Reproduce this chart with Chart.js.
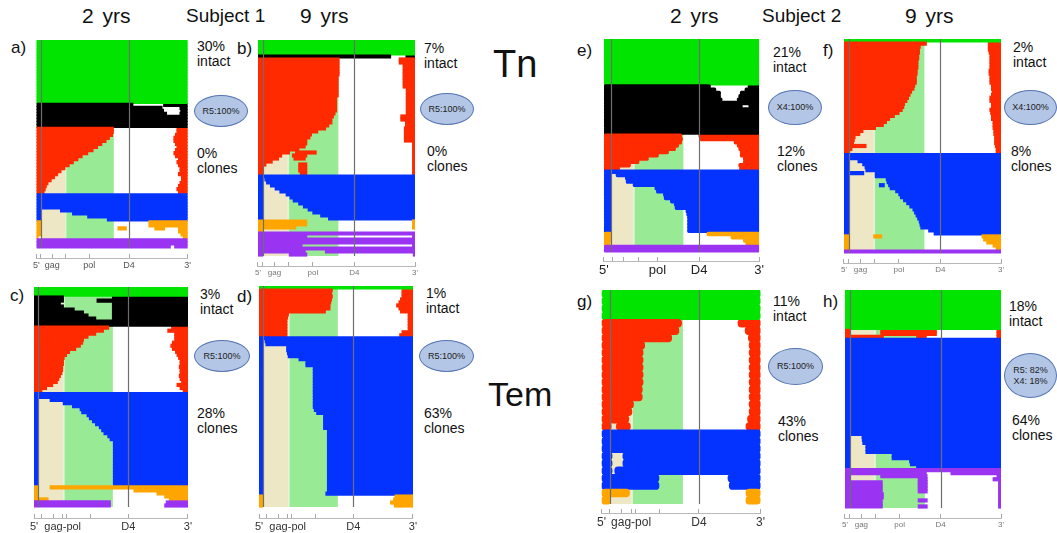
<!DOCTYPE html>
<html>
<head>
<meta charset="utf-8">
<script src="https://cdn.jsdelivr.net/npm/chart.js"></script>
<style>
  body { margin:0; width:1057px; height:533px; position:relative; background:#fff; overflow:hidden;
         font-family:"Liberation Sans", Arial, sans-serif; color:#111; }
  .t { position:absolute; white-space:nowrap; line-height:1; }
  .p { position:absolute; white-space:nowrap; font-size:14px; line-height:15px; }
  .ell { position:absolute; box-sizing:border-box; border:1.3px solid #5574b2; background:#b3c6e6;
         border-radius:50%; display:flex; align-items:center; justify-content:center;
         font-size:9px; line-height:11px; text-align:center; color:#222; }
  canvas { position:absolute; }
</style>
</head>
<body>

<div class="t" style="left:82px;top:5px;font-size:21px;word-spacing:3px">2 yrs</div>
<div class="t" style="left:186px;top:6px;font-size:19px">Subject 1</div>
<div class="t" style="left:300px;top:5px;font-size:21px;word-spacing:3px">9 yrs</div>
<div class="t" style="left:670px;top:5px;font-size:21px;word-spacing:3px">2 yrs</div>
<div class="t" style="left:762px;top:6px;font-size:19px">Subject 2</div>
<div class="t" style="left:905px;top:5px;font-size:21px;word-spacing:3px">9 yrs</div>

<div class="t" style="left:493px;top:45px;font-size:38px">Tn</div>
<div class="t" style="left:488px;top:377px;font-size:34px">Tem</div>

<div class="t" style="left:11px;top:39px;font-size:17px">a)</div>
<div class="t" style="left:237px;top:40px;font-size:17px">b)</div>
<div class="t" style="left:577px;top:42px;font-size:17px">e)</div>
<div class="t" style="left:823px;top:42px;font-size:17px">f)</div>
<div class="t" style="left:10px;top:287px;font-size:17px">c)</div>
<div class="t" style="left:237px;top:288px;font-size:17px">d)</div>
<div class="t" style="left:577px;top:293px;font-size:17px">g)</div>
<div class="t" style="left:823px;top:293px;font-size:17px">h)</div>

<div class="p" style="left:197px;top:39px">30%<br>intact</div>
<div class="p" style="left:197px;top:146px">0%<br>clones</div>
<div class="p" style="left:424px;top:41px">7%<br>intact</div>
<div class="p" style="left:427px;top:144px">0%<br>clones</div>
<div class="p" style="left:773px;top:45px">21%<br>intact</div>
<div class="p" style="left:777px;top:144px">12%<br>clones</div>
<div class="p" style="left:1013px;top:40px">2%<br>intact</div>
<div class="p" style="left:1011px;top:144px">8%<br>clones</div>
<div class="p" style="left:200px;top:287px">3%<br>intact</div>
<div class="p" style="left:197px;top:406px">28%<br>clones</div>
<div class="p" style="left:426px;top:286px">1%<br>intact</div>
<div class="p" style="left:424px;top:406px">63%<br>clones</div>
<div class="p" style="left:773px;top:294px">11%<br>intact</div>
<div class="p" style="left:778px;top:414px">43%<br>clones</div>
<div class="p" style="left:1009px;top:299px">18%<br>intact</div>
<div class="p" style="left:1012px;top:413px">64%<br>clones</div>

<div class="ell" style="left:194px;top:95px;width:54px;height:32px">R5:100%</div>
<div class="ell" style="left:420px;top:93px;width:54px;height:32px">R5:100%</div>
<div class="ell" style="left:768px;top:90px;width:54px;height:35px">X4:100%</div>
<div class="ell" style="left:1004px;top:90px;width:53px;height:35px">X4:100%</div>
<div class="ell" style="left:194px;top:340px;width:56px;height:32px">R5:100%</div>
<div class="ell" style="left:419px;top:340px;width:55px;height:32px">R5:100%</div>
<div class="ell" style="left:768px;top:348px;width:55px;height:37px">R5:100%</div>
<div class="ell" style="left:1004px;top:353px;width:53px;height:45px">R5: 82%<br>X4: 18%</div>

<script>
// provirus classes: G intact, K hypermutated, R large internal deletion,
// B 5' deletion, O other defects, P packaging-signal / MSD defects, W blank
const COLORS = { G:'#00e400', K:'#000000', R:'#ff2a00', B:'#0433ff', O:'#ffa500', P:'#9a34f2', W:'#ffffff' };

// genome landmarks (% of HXB2 length)
const ltrEnd = { a:2.8, b:3.2, c:2.7, d:2.5, e:4.8, f:2.9, g:5.5, h:3.2 };
const gagEnd = 19;
const polStart = 19.8;
const polEnd = 51.2;
const d4Pos = 61.3;

// x axis ticks
const ticksSmall = [0, 3, 10.5, 19.5, 35, 61.3, 100];
const labelsSmall = ["5'", '', 'gag', '', 'pol', 'D4', "3'"];
const ticksGagPol = [0, 4.8, 12.4, 18.6, 21.1, 36.6, 61.3, 100];
const labelsGagPol = ["5'", '', '', 'gag-pol', '', '', 'D4', "3'"];
const ticksE = [0, 5.6, 12.8, 22.6, 34.5, 61.3, 100];
const labelsE = ["5'", '', '', '', 'pol', 'D4', "3'"];

// each row: present from 0 to L and from R to 100 (L = R = 100 -> full length)
// X: extra pieces [row, start, end, class]

// a) subject 1, Tn, 2 yrs
const aGroups = [['G',21],['K',8],['R',22],['B',9],['O',6],['P',3]];
const aL = [100,100,100,100,100,100,100,100,100,100,100,100,100,100,100,100,100,100,100,100,100,
  63.7,83,84,86,100,100,100,100,
  50.8,50.8,50.3,48.2,46,43.2,40.4,37.4,33.9,30.2,27.4,24.4,21.6,18.8,16.2,14,11.9,9.7,7.6,6.5,5.8,5,
  100,100,100,100,2.8,2.8,2.8,2.8,2.8,
  2.8,2.8,2.8,2.8,2.8,1,
  100,100,88.5];
const aR = [100,100,100,100,100,100,100,100,100,100,100,100,100,100,100,100,100,100,100,100,100,
  84.2,95,95.5,95,100,100,100,100,
  93,93,92,91,91,92,93,92,91,92,94,93,94,95,95,94,96,96,95,94,93,94,
  100,100,100,100,3.5,16,24,34,47,
  74.5,74.5,94,94,95.7,97.2,
  100,100,91.5];
const aX = [[62,54,59.4,'O'],[62,78.4,84.7,'O']];

// b) subject 1, Tn, 9 yrs
const bGroups = [['G',5],['K',1],['R',39],['B',15],['O',4],['P',8]];
const bL = [100,100,100,100,100,
  84.4,
  51.6,51.6,51.6,51.6,51.6,51.6,51,51,51,51,51,51,51,50,50,50,50,50,
  49,48,47,47,45,43,38,34,33,31,31,30,26,20,15,13,9,5,3,3,3,
  100,3.2,3.2,3.2,3.2,3.2,3.2,3.2,3.2,3.2,3.2,3.2,3.2,3.2,3.2,
  31,31,24,3,
  100,31,100,100,28,100,30,3];
const bR = [100,100,100,100,100,
  94.3,
  90,90,92.5,92.5,92.5,92.5,92.5,92.5,92.5,92.5,94.5,94.5,94.5,94.5,94.5,94.5,94.5,94.5,94.5,
  91,91,94,94,93.3,93.3,93.3,93.3,93.3,98.5,98.5,98.5,98.5,98.5,98.5,98.5,98.5,98.5,98.5,98.5,
  100,4.5,5.5,8,11,14,18,20.5,22.5,26,29,32,35,40,45,
  98.5,98.5,98.5,100,
  100,98.5,100,100,98.5,100,43,99];
const bX = [[37,24,37,'R'],[38,22,31,'R'],[39,23,30,'R'],[41,26,31,'R'],[42,26,31,'R'],[43,26,31,'R'],[44,27,31,'R'],
  [71,20,31,'P']];

// c) subject 1, Tem, 2 yrs
const cGroups = [['G',3],['K',10],['R',22],['B',31],['O',5],['P',2]];
const cL = [100,100,100,
  19,19,17,19,26,32,35,40,100,100,
  48.4,45,40,35,32,31.5,30,27,23,21,19.5,19,19,18.5,18.5,18,17,16,15,12,8,5,
  100,100,2.7,2.7,2.7,2.7,2.7,2.7,2.7,2.7,2.7,2.7,2.7,2.7,2.7,2.7,2.7,2.7,2.7,2.7,2.7,2.7,2.7,2.7,2.7,2.7,2.7,2.7,2.7,2.7,2.7,
  2.7,2.7,2.7,2.7,9,
  49.5,49.5];
const cR = [100,100,100,
  51,41,51,51,51,51,51,51,100,100,
  89.5,87,91.5,91.5,91.5,90,89,90,92,93,94,95,95,94.5,95,95,94.5,95,96,93,95,97,
  100,100,10.5,19,25,30,31,34.5,36,38,40,42.5,44,45.5,48,49.5,
  51.6,51.6,51.6,51.6,51.6,51.6,51.6,51.6,51.6,51.6,51.6,51.6,51.6,51.6,51.6,
  10.5,65,80,85,88,
  86,85];
const cX = [];

// d) subject 1, Tem, 9 yrs
const dGroups = [['G',1],['R',16],['B',53],['O',4]];
const dL = [100,
  47.5,47,47.5,47,46.5,46,46,43,19,18.5,18,18,18,18,18,18,
  100,2.7,2.7,2.7,2.7,2.7,2.7,2.7,2.7,2.7,2.7,2.7,2.7,2.7,2.7,2.7,2.7,2.7,2.7,2.7,2.7,2.7,2.7,2.7,2.7,2.7,2.7,
  2.7,2.7,2.7,2.7,2.7,2.7,2.7,2.7,2.7,2.7,2.7,2.7,2.7,2.7,2.7,2.7,2.7,2.7,2.7,2.7,2.7,2.7,2.7,2.7,2.7,2.7,
  2.2,2.2,2.2,2.2];
const dR = [100,
  93,93,93,92,91,89.5,91,92,97,97,97,97,97,97,93,91.5,
  100,4,4.5,18,18,18.5,19,26,30.5,30.5,
  35.3,35.3,35.3,35.3,35.3,35.3,35.3,35.3,35.3,35.3,35.3,35.3,35.3,35.3,
  36,37.5,42,42,42,42,42,
  44.5,44.5,44.5,44.5,44.5,44.5,44.5,44.5,44.5,44.5,44.5,44.5,44.5,44.5,44.5,44.5,44.5,44.5,44.5,44.5,44.5,43.5,
  88.5,87.5,85.5,88];
const dX = [];

// e) subject 2, Tn, 2 yrs
const eGroups = [['G',14],['K',15],['R',11],['B',19],['O',4],['P',2]];
const eL = [100,100,100,100,100,100,100,100,100,100,100,100,100,100,
  68.5,72,75,75,76,100,89,100,100,100,100,100,100,100,100,
  50,50.5,50,48,46,41.5,35,28.5,22.5,17,10,
  100,4.8,4.8,4.8,4.8,4.8,4.8,4.8,4.8,4.8,4.8,4.8,4.8,4.8,4.8,4.8,4.8,4.8,4.8,
  4.8,4.8,4.8,4,
  100,100];
const eR = [100,100,100,100,100,100,100,100,100,100,100,100,100,100,
  93,91,88,87,86,100,93.5,100,100,100,100,100,100,100,100,
  61.3,62,84,86,87,88,88,90,90,87,87.5,
  100,8,14,14.5,19,33,34,38.5,39,43,45.5,46,53,53.5,54,54,54,54,54,
  66.5,82,90,91.5,
  100,100];
const eX = [[17,65,68,'W']];

// f) subject 2, Tn, 9 yrs
const fGroups = [['G',1],['R',37],['B',27],['O',5],['P',1]];
const fL = [100,
  52.4,48.5,48,48,47.5,47.5,47,47,47,46.5,46.5,46,46,46,45,44.5,43,42,41,40,38.5,38,37,35,32,29,27,25,20,12,10,7,6.5,6,14,5,3.5,
  100,2.9,2.9,2.9,2.9,2.9,12.5,2.9,2.9,2.9,2.9,2.9,2.9,2.9,2.9,2.9,2.9,2.9,2.9,2.9,2.9,2.9,2.9,2.9,2.9,2.9,2.9,
  2.9,2.9,2.9,2.9,2.9,
  100];
const fR = [100,
  92,92,92,92.5,93,93,93,93,93,92.5,92.5,93,93,93,94,94,94.5,94,93,93,94,94,93,93.5,94,94,95,95,95,95.5,95.5,96,96,96,96.5,97,97,
  100,4,9,12,13.5,14,20,20,27,27.5,28.5,29.5,33,35,36,38,40,42,44,45,46,47,48,48.5,49,54,57.5,
  88,89,91,95,97,
  100];
const fX = [[27,7,18,'W'],[35,9,14,'W'],[22,92.5,98,'W'],[16,92.5,96,'W'],
  [44,73,94,'W'],[48,22.6,25.6,'B'],[48,93.3,96.4,'W'],[65,19,24,'O']];

// g) subject 2, Tem, 2 yrs
const gGroups = [['G',4],['R',15],['B',8],['O',2]];
const gL = [100,100,100,100,
  50.2,48.5,44,27,26,26,26,26,26,25.5,25.5,20,19,17,6,
  100,100,100,6.5,6.5,6.5,36,36,
  17.5,5.5];
const gR = [100,100,100,100,
  86,90.5,92.5,93,93,93,93,93,93,93,93,93,93,92,91,
  100,100,100,13.6,13.6,8.5,79.7,80.5,
  91,91];
const gX = [[18,9.5,18,'R']];

// h) subject 2, Tem, 9 yrs
const hGroups = [['G',13],['R',3],['B',43],['P',13]];
const hL = [100,100,100,100,100,100,100,100,100,100,100,100,100,
  3.4,3.4,24.5,
  100,100,100,100,100,100,100,100,100,100,100,100,100,100,100,100,100,100,100,100,100,100,100,100,100,100,100,100,100,100,100,100,
  3.4,3.4,3.4,3.4,3.4,3.4,3.4,3.4,3.4,3.4,3.4,
  100,52,3.4,3.4,23.8,23.8,23.8,23.8,24.5,24.5,23.8,23.8,23.8];
const hR = [100,100,100,100,100,100,100,100,100,100,100,100,100,
  97.5,97.5,97.5,
  100,100,100,100,100,100,100,100,100,100,100,100,100,100,100,100,100,100,100,100,100,100,100,100,100,100,100,100,100,100,100,100,
  11,11.2,11.5,13.5,13.5,13.5,30.3,30.3,41.5,42,46,
  100,68,97.5,95,98.5,98.5,98.5,98.5,98.5,98.5,98.5,98.5,98.5];
const hX = [[13,23,58.5,'R'],[14,23,58.5,'R'],[15,46,52,'R'],
  [61,23,52.5,'P'],[62,47,52.6,'P'],[63,47,52.6,'P'],[64,47,52.6,'P'],[65,47,52.6,'P'],[66,47,52.6,'P'],
  [69,47,52.6,'P'],[71,47,52.6,'P']];

Chart.defaults.font.family = '"Liberation Sans", Arial, sans-serif';

const genomePlugin = {
  id: 'genome',
  beforeDatasetsDraw(chart, args, o) {
    const ctx = chart.ctx, xs = chart.scales.x, ys = chart.scales.y;
    const top = ys.getPixelForValue(-0.5), bot = ys.getPixelForValue(o.rows - 0.5);
    const band = (a, b, c) => {
      const x0 = xs.getPixelForValue(a), x1 = xs.getPixelForValue(b);
      ctx.fillStyle = c;
      ctx.fillRect(x0, top, x1 - x0, bot - top);
    };
    ctx.save();
    band(o.ltr + 0.4, gagEnd, '#eee7c6');
    band(gagEnd, polStart, '#dcf3d4');
    band(polStart, polEnd, '#98eb94');
    ctx.restore();
  },
  afterDatasetsDraw(chart, args, o) {
    const ctx = chart.ctx, xs = chart.scales.x, ys = chart.scales.y;
    const top = ys.getPixelForValue(-0.5), bot = ys.getPixelForValue(o.rows - 0.5);
    ctx.save();
    ctx.strokeStyle = '#6e6e6e';
    ctx.lineWidth = 1.2;
    [o.ltr, d4Pos].forEach(v => {
      const x = Math.round(xs.getPixelForValue(v)) + 0.5;
      ctx.beginPath(); ctx.moveTo(x, top); ctx.lineTo(x, bot); ctx.stroke();
    });
    ctx.restore();
  }
};

function drawPanel(p) {
  const keys = [];
  p.groups.forEach(g => { for (let i = 0; i < g[1]; i++) keys.push(g[0]); });
  const n = keys.length;
  const rowPx = p.h / n;
  const leftData = [], leftCol = [], rightData = [], rightCol = [];
  keys.forEach((k, i) => {
    if (p.L[i] > 0) { leftData.push({ x: [0, p.L[i]], y: i }); leftCol.push(COLORS[k]); }
    if (p.R[i] < 100) { rightData.push({ x: [p.R[i], 100], y: i }); rightCol.push(COLORS[k]); }
  });
  const extraData = p.X.map(e => ({ x: [e[1], e[2]], y: e[0] }));
  const extraCol = p.X.map(e => COLORS[e[3]]);

  const common = {
    borderWidth: 0, borderSkipped: false, grouped: false,
    barPercentage: 1, categoryPercentage: 1, inflateAmount: 0.6,
    borderRadius: p.round ? rowPx / 2 : 0
  };

  const canvas = document.createElement('canvas');
  canvas.width = p.w + 16;
  canvas.height = p.h + p.gap + p.axisH;
  canvas.style.left = (p.x - 8) + 'px';
  canvas.style.top = p.y + 'px';
  document.body.appendChild(canvas);

  new Chart(canvas, {
    type: 'bar',
    data: {
      datasets: [
        Object.assign({ data: leftData, backgroundColor: leftCol }, common),
        Object.assign({ data: rightData, backgroundColor: rightCol }, common),
        Object.assign({ data: extraData, backgroundColor: extraCol }, common)
      ]
    },
    options: {
      indexAxis: 'y',
      responsive: false,
      animation: false,
      devicePixelRatio: 1,
      events: [],
      layout: { padding: { left: 8, right: 8, top: 0, bottom: 0 } },
      plugins: {
        legend: { display: false },
        tooltip: { enabled: false },
        genome: { rows: n, ltr: p.ltr }
      },
      scales: {
        y: {
          type: 'linear', reverse: true, display: false,
          min: -0.5, max: n - 0.5 + p.gap / rowPx,
          afterBuildTicks: s => { s.ticks = []; }
        },
        x: {
          type: 'linear', min: 0, max: 100,
          afterBuildTicks: s => { s.ticks = p.ticks.map(v => ({ value: v })); },
          afterFit: s => { s.height = p.axisH; },
          ticks: {
            autoSkip: false, maxRotation: 0, padding: 6,
            color: p.tickColor, font: { size: p.tickSize },
            callback: (v, i) => p.labels[i]
          },
          grid: { drawOnChartArea: false, drawTicks: true, tickLength: -4, color: '#a8a8a8' },
          border: { display: true, color: '#b8b8b8' }
        }
      }
    },
    plugins: [genomePlugin]
  });
}

const panels = [
  { groups: aGroups, L: aL, R: aR, X: aX, ltr: ltrEnd.a, x: 35, y: 40, w: 154, h: 208, gap: 10, axisH: 20,
    ticks: ticksSmall, labels: labelsSmall, tickSize: 9, tickColor: '#555' },
  { groups: bGroups, L: bL, R: bR, X: bX, ltr: ltrEnd.b, x: 257, y: 40, w: 159, h: 216, gap: 10, axisH: 18,
    ticks: ticksSmall, labels: labelsSmall, tickSize: 8, tickColor: '#777' },
  { groups: cGroups, L: cL, R: cR, X: cX, ltr: ltrEnd.c, x: 32, y: 287, w: 158, h: 220, gap: 11, axisH: 22,
    ticks: ticksGagPol, labels: labelsGagPol, tickSize: 11, tickColor: '#333' },
  { groups: dGroups, L: dL, R: dR, X: dX, ltr: ltrEnd.d, x: 257, y: 286, w: 158, h: 221, gap: 11, axisH: 22,
    ticks: ticksGagPol, labels: labelsGagPol, tickSize: 11, tickColor: '#333' },
  { groups: eGroups, L: eL, R: eR, X: eX, ltr: ltrEnd.e, x: 601, y: 39, w: 161, h: 213, gap: 9, axisH: 24, round: true,
    ticks: ticksE, labels: labelsE, tickSize: 13, tickColor: '#222' },
  { groups: fGroups, L: fL, R: fR, X: fX, ltr: ltrEnd.f, x: 843, y: 39, w: 159, h: 214, gap: 10, axisH: 18,
    ticks: ticksSmall, labels: labelsSmall, tickSize: 8, tickColor: '#777' },
  { groups: gGroups, L: gL, R: gR, X: gX, ltr: ltrEnd.g, x: 599, y: 290, w: 164, h: 214, gap: 9, axisH: 22, round: true,
    ticks: ticksGagPol, labels: labelsGagPol, tickSize: 12, tickColor: '#333' },
  { groups: hGroups, L: hL, R: hR, X: hX, ltr: ltrEnd.h, x: 844, y: 290, w: 158, h: 218, gap: 10, axisH: 18,
    ticks: ticksSmall, labels: labelsSmall, tickSize: 8, tickColor: '#777' }
];

panels.forEach(drawPanel);
</script>
</body>
</html>
